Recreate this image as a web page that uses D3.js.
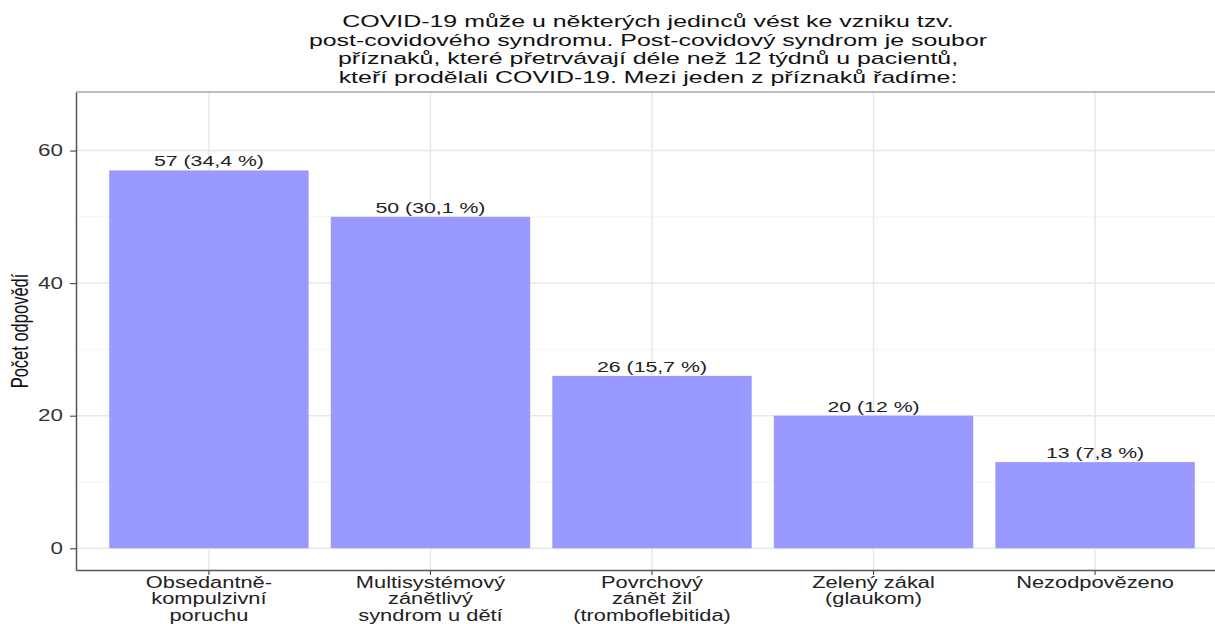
<!doctype html>
<html>

<head>
  <meta charset="utf-8">
  <title>d3</title>
  <style>
    body { margin: 0; background: #fff; }
    text { font-family: "Liberation Sans", Arial, sans-serif; }
  </style>
</head>

<body>
  <svg width="1215" height="624"></svg>

  <script src="https://d3js.org/d3.v7.min.js"></script>
  <script>
    // data
    const categories = [
      ['Obsedantně-', 'kompulzivní', 'poruchu'],
      ['Multisystémový', 'zánětlivý', 'syndrom u dětí'],
      ['Povrchový', 'zánět žil', '(tromboflebitida)'],
      ['Zelený zákal', '(glaukom)'],
      ['Nezodpovězeno']
    ];
    const counts = [57, 50, 26, 20, 13];
    const labels = ['57 (34,4 %)', '50 (30,1 %)', '26 (15,7 %)', '20 (12 %)', '13 (7,8 %)'];
    const titleLines = [
      'COVID-19 může u některých jedinců vést ke vzniku tzv.',
      'post-covidového syndromu. Post-covidový syndrom je soubor',
      'příznaků, které přetrvávají déle než 12 týdnů u pacientů,',
      'kteří prodělali COVID-19. Mezi jeden z příznaků řadíme:'
    ];
    const yTicks = [0, 20, 40, 60];
    const yMinor = [10, 30, 50];

    const svg = d3.select('svg');
    const sx = 'scale(1.4,1)'; // the picture is stretched sideways

    const panel = { left: 76, right: 1228, top: 92, bottom: 570 };
    const keys = d3.range(categories.length);

    const x = d3.scaleBand()
      .domain(keys)
      .range([panel.left, panel.right])
      .paddingInner(0.1)
      .paddingOuter(0.15);
    const yMax = 57 * 1.15;
    const y = d3.scaleLinear()
      .domain([-yMax * 0.05, yMax * 1.05])
      .range([panel.bottom, panel.top]);

    // grid
    const grid = svg.append('g');
    grid.selectAll('.minor').data(yMinor).enter().append('line')
      .attr('x1', panel.left).attr('x2', panel.right)
      .attr('y1', d => y(d)).attr('y2', d => y(d))
      .attr('stroke', '#f4f4f4').attr('stroke-width', 1);
    grid.selectAll('.major').data(yTicks).enter().append('line')
      .attr('x1', panel.left).attr('x2', panel.right)
      .attr('y1', d => y(d)).attr('y2', d => y(d))
      .attr('stroke', '#e8e8e8').attr('stroke-width', 1.5);
    grid.selectAll('.vert').data(keys).enter().append('line')
      .attr('x1', d => x(d) + x.bandwidth() / 2).attr('x2', d => x(d) + x.bandwidth() / 2)
      .attr('y1', panel.top).attr('y2', panel.bottom)
      .attr('stroke', '#e8e8e8').attr('stroke-width', 1.5);

    // bars
    svg.append('g').selectAll('rect').data(counts).enter().append('rect')
      .attr('x', (d, i) => x(i))
      .attr('width', x.bandwidth())
      .attr('y', d => y(d))
      .attr('height', d => y(0) - y(d))
      .attr('fill', '#9999ff');

    // bar labels
    svg.append('g').selectAll('text').data(counts).enter().append('text')
      .attr('transform', (d, i) => `translate(${x(i) + x.bandwidth() / 2},${y(d) - 4}) ${sx}`)
      .attr('text-anchor', 'middle')
      .attr('font-size', 15.2)
      .attr('fill', '#222')
      .text((d, i) => labels[i]);

    // panel border (top light, left/bottom dark)
    svg.append('line')
      .attr('x1', panel.left).attr('x2', panel.right)
      .attr('y1', panel.top).attr('y2', panel.top)
      .attr('stroke', '#aaa').attr('stroke-width', 1.5);

    // y axis
    const yAxis = svg.append('g')
      .attr('transform', `translate(${panel.left},0)`)
      .call(d3.axisLeft(y).tickValues(yTicks).tickSize(6).tickSizeOuter(0).tickPadding(3.3));
    yAxis.select('.domain').attr('stroke', '#555').attr('stroke-width', 1.5);
    yAxis.selectAll('.tick line').attr('stroke', '#555').attr('stroke-width', 1.2);
    yAxis.selectAll('.tick text')
      .attr('transform', sx)
      .attr('font-size', 16)
      .attr('fill', '#333');

    // x axis
    const xAxis = svg.append('g')
      .attr('transform', `translate(0,${panel.bottom})`)
      .call(d3.axisBottom(x).tickSize(5).tickSizeOuter(0));
    xAxis.select('.domain').attr('stroke', '#555').attr('stroke-width', 1.5);
    xAxis.selectAll('.tick line').attr('stroke', '#555').attr('stroke-width', 1.2);
    xAxis.selectAll('.tick text').each(function (d) {
      const t = d3.select(this)
        .text(null)
        .attr('y', 0).attr('dy', null)
        .attr('transform', sx)
        .attr('font-size', 15.6)
        .attr('fill', '#222');
      categories[d].forEach((line, j) => {
        t.append('tspan').attr('x', 0).attr('y', 18 + j * 16.5).text(line);
      });
    });

    // y title
    svg.append('text')
      .attr('transform', `translate(28,331) ${sx} rotate(-90)`)
      .attr('text-anchor', 'middle')
      .attr('font-size', 16.5)
      .attr('fill', '#111')
      .text('Počet odpovědí');

    // title
    svg.append('g').selectAll('text').data(titleLines).enter().append('text')
      .attr('transform', (d, i) => `translate(648,${27 + i * 18.5}) scale(1.52,1)`)
      .attr('text-anchor', 'middle')
      .attr('font-size', 16.4)
      .attr('fill', '#111')
      .text(d => d);
  </script>
</body>

</html>
